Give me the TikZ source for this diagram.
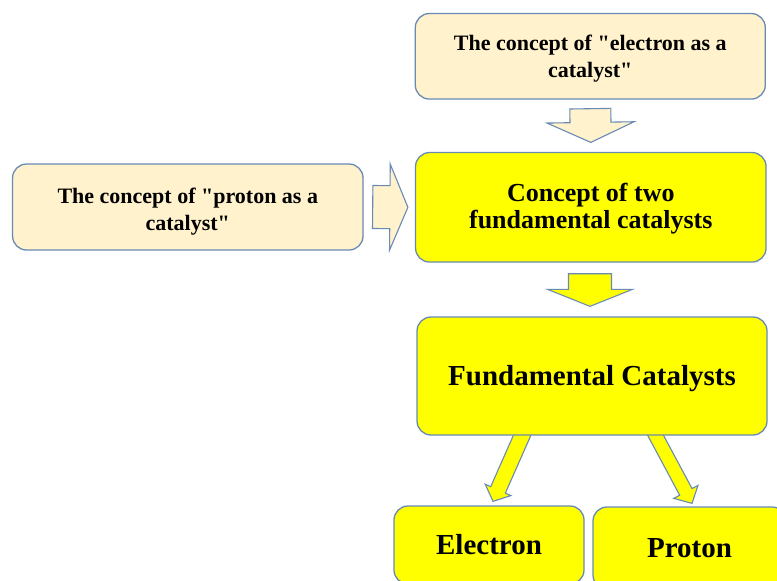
\documentclass[tikz,border=0pt]{standalone}
\usepackage{fontspec}
\setmainfont{Liberation Serif}
\usetikzlibrary{calc}
\pgfdeclarelayer{back}
\pgfsetlayers{back,main}
\definecolor{bordc}{RGB}{104,138,180}
\definecolor{beige}{RGB}{255,242,204}
\definecolor{yel}{RGB}{255,255,0}
\newcommand\blockarrow[7]{% #1 style, #2 name, #3 from, #4 to, #5 shaft half, #6 head half, #7 head length
  \coordinate (#2h) at ($(#4)!#7!(#3)$);
  \draw[#1] ($(#3)!#5!90:(#4)$) -- ($(#2h)!#5!90:(#4)$) -- ($(#2h)!#6!90:(#4)$) -- (#4)
    -- ($(#2h)!#6!-90:(#4)$) -- ($(#2h)!#5!-90:(#4)$) -- ($(#3)!#5!-90:(#4)$) -- cycle;}
\newcommand\lowerby[2]{\raisebox{-#1}[\height][\depth]{#2}}
\tikzset{
  box/.style={draw=bordc, line width=1.3pt, rounded corners=14pt, rectangle, align=center, font=\bfseries, inner sep=0pt},
  smalltxt/.style={font=\bfseries\fontsize{22}{27}\selectfont},
  midtxt/.style={font=\bfseries\fontsize{26}{27}\selectfont},
  bigtxt/.style={font=\bfseries\fontsize{29}{33}\selectfont},
  arrbeige/.style={draw=bordc, line width=1.1pt, fill=beige, line join=miter},
  arryel/.style={draw=bordc, line width=1.1pt, fill=yel, line join=miter},
}
\begin{document}
\begin{tikzpicture}[x=1pt,y=-1pt]
\useasboundingbox (0,0) rectangle (777,581);
\clip (0,0) rectangle (777,581);
\node[box, fill=beige, smalltxt, minimum width=350pt, minimum height=85.5pt] (top) at (590.3,56.3)
  {\lowerby{2pt}{\begin{tabular}{@{}c@{}}The concept of \textquotedbl electron as a\\catalyst\textquotedbl\end{tabular}}};
\node[box, fill=beige, smalltxt, minimum width=350.5pt, minimum height=86pt] (left) at (187.8,207)
  {\lowerby{5pt}{\begin{tabular}{@{}c@{}}The concept of \textquotedbl proton as a\\catalyst\textquotedbl\end{tabular}}};
\node[box, fill=yel, midtxt, minimum width=350.5pt, minimum height=109.5pt] (concept) at (590.8,207.3)
  {\lowerby{2pt}{\begin{tabular}{@{}c@{}}Concept of two\\fundamental catalysts\end{tabular}}};
\node[box, fill=yel, bigtxt, minimum width=350pt, minimum height=118pt] (fund) at (592,376)
  {\lowerby{3pt}{Fundamental Catalysts}};
\node[box, fill=yel, bigtxt, minimum width=190pt, minimum height=78pt] (electron) at (489,545)
  {Electron};
\node[box, fill=yel, bigtxt, minimum width=193pt, minimum height=82pt] (proton) at (689.5,548)
  {Proton};
\coordinate (a1s) at ($(top.south)+(0,9)$);
\coordinate (a1e) at ($(concept.north)+(0,-9.5)$);
\coordinate (a2s) at ($(left.east)+(9,0)$);
\coordinate (a2e) at ($(concept.west)+(-7,0)$);
\coordinate (a3s) at ($(concept.south)+(-0.8,11)$);
\coordinate (a3e) at ($(fund.north)+(-2,-10)$);
\coordinate (a4s) at ($(fund.south)+(-65.6,-10)$);
\coordinate (a4e) at ($(electron.north)+(4,-4)$);
\coordinate (a5s) at ($(fund.south)+(58.4,-10)$);
\coordinate (a5e) at ($(proton.north)+(2.5,-3)$);
\blockarrow{arrbeige}{ha1}{a1s}{a1e}{20.5pt}{43.5pt}{20pt}
\blockarrow{arrbeige}{ha2}{a2s}{a2e}{21.5pt}{43pt}{18pt}
\blockarrow{arryel}{ha3}{a3s}{a3e}{21.5pt}{42.5pt}{17pt}
\begin{pgfonlayer}{back}
\blockarrow{arryel}{ha4}{a4s}{a4e}{8pt}{14pt}{12.5pt}
\blockarrow{arryel}{ha5}{a5s}{a5e}{7pt}{13.7pt}{13pt}
\end{pgfonlayer}
\end{tikzpicture}
\end{document}
